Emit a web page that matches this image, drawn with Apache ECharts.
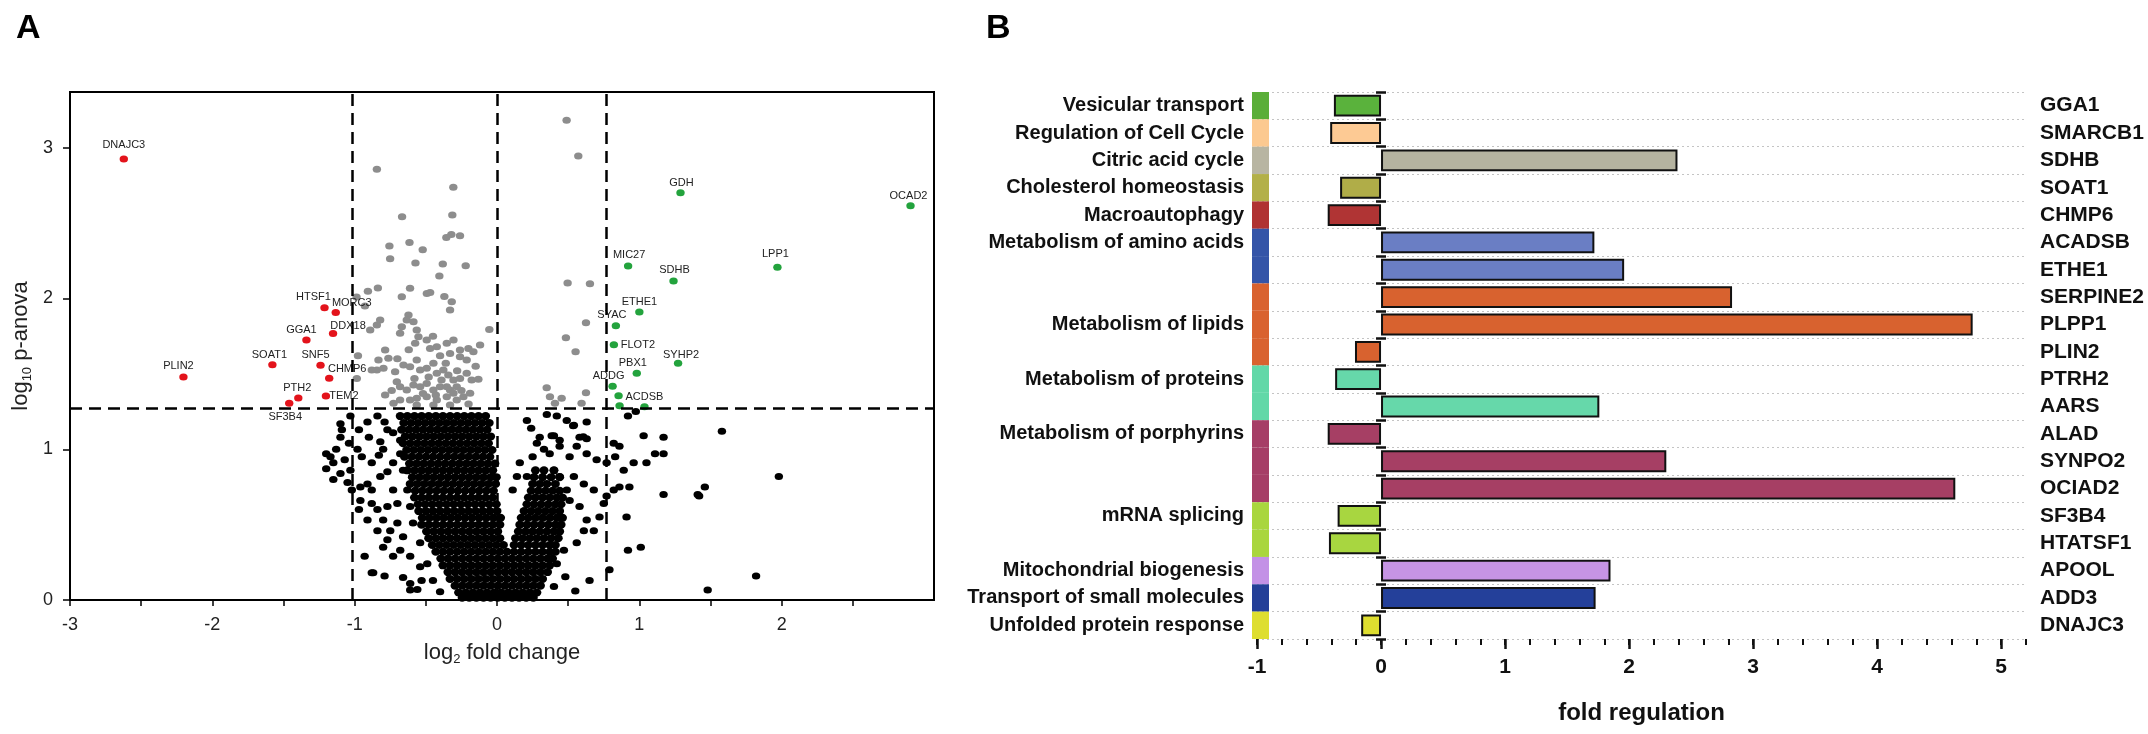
<!DOCTYPE html>
<html><head><meta charset="utf-8">
<script src="https://cdn.jsdelivr.net/npm/echarts@6.0.0/dist/echarts.min.js"></script>
<style>html,body{margin:0;padding:0;background:#fff}#c{width:2148px;height:734px}</style>
</head><body><div id="c"></div>
<script>
// ---------------- Panel A data (volcano) ----------------
const volcanoXTicks = [-3,-2.5,-2,-1.5,-1,-0.5,0,0.5,1,1.5,2,2.5];
const volcanoXLabels = [-3,-2,-1,0,1,2];
const volcanoYTicks = [0,1,2,3];
const thresholdX = [-1.02, 0, 0.77];
const thresholdY = 1.27;

const redGenes = ['DNAJC3','HTSF1','MORC3','DDX18','GGA1','SNF5','CHMP6','TEM2','PTH2','SF3B4','SOAT1','PLIN2'];
const redX = [-2.622,-1.212,-1.133,-1.152,-1.339,-1.24,-1.179,-1.202,-1.396,-1.46,-1.578,-2.203];
const redY = [2.925,1.939,1.908,1.768,1.725,1.557,1.471,1.353,1.34,1.305,1.561,1.48];

const greenGenes = ['GDH','OCAD2','MIC27','LPP1','SDHB','ETHE1','SYAC','FLOT2','SYHP2','PBX1','ADDG','','','ACDSB'];
const greenX = [1.289,2.905,0.921,1.97,1.24,1.0,0.835,0.821,1.272,0.982,0.812,0.854,0.861,1.036];
const greenY = [2.702,2.616,2.216,2.207,2.116,1.91,1.82,1.694,1.57,1.504,1.418,1.355,1.289,1.282];

const grayPoints = [
[-0.844,2.857],[-0.307,2.738],[-0.667,2.543],[-0.314,2.554],[-0.321,2.424],[-0.356,2.404],[-0.26,2.417],[-0.756,2.348],[-0.615,2.372],[-0.522,2.324],[-0.751,2.264],[-0.573,2.235],[-0.381,2.229],[-0.22,2.218],[-0.405,2.149],[-0.837,2.07],[-0.907,2.048],[-0.611,2.068],[-0.669,2.012],[-0.493,2.034],[-0.47,2.04],[-0.37,2.014],[-0.987,2.01],
[0.489,3.182],[0.571,2.945],[0.496,2.103],[0.653,2.098],
[-0.318,1.979],[-0.33,1.924],
[-0.821,1.857],[-0.891,1.791],[-0.844,1.824],[-0.622,1.891],[-0.634,1.857],[-0.669,1.813],[-0.587,1.846],[-0.564,1.791],[-0.681,1.769],[-0.552,1.747],[-0.494,1.725],[-0.575,1.703],[-0.47,1.669],[-0.423,1.68],[-0.353,1.703],[-0.306,1.725],[-0.33,1.636],[-0.26,1.658],[-0.201,1.669],[-0.166,1.647],[-0.119,1.692],[-0.26,1.614],[-0.213,1.592],
[-0.786,1.658],[-0.763,1.603],[-0.833,1.592],[-0.844,1.526],[-0.798,1.537],[-0.88,1.526],[-0.985,1.47],[-0.716,1.515],[-0.657,1.559],[-0.611,1.548],[-0.564,1.592],[-0.54,1.526],[-0.494,1.537],[-0.447,1.57],[-0.423,1.504],[-0.377,1.526],[-0.342,1.493],[-0.306,1.459],[-0.26,1.47],[-0.213,1.504],[-0.178,1.459],[-0.131,1.464],
[-0.704,1.448],[-0.681,1.415],[-0.634,1.393],[-0.587,1.426],[-0.54,1.415],[-0.494,1.437],[-0.447,1.393],[-0.4,1.415],[-0.353,1.415],[-0.33,1.393],[-0.306,1.371],[-0.283,1.415],
[-0.786,1.36],[-0.681,1.327],[-0.611,1.327],[-0.564,1.338],[-0.494,1.349],[-0.423,1.327],[-0.353,1.349],[-0.283,1.327],[-0.236,1.349],[-0.189,1.371],[-0.727,1.305],[-0.564,1.294],[-0.447,1.294],[-0.33,1.294],
[-0.45,1.75],[-0.40,1.62],[-0.48,1.48],[-0.39,1.46],[-0.58,1.47],[-0.62,1.66],[-0.70,1.60],[-0.74,1.39],[-0.52,1.37],[-0.25,1.39],[-0.2,1.30],[-0.15,1.55],[-0.36,1.57],[-0.28,1.52],[-0.43,1.36],
[-0.054,1.795],[-0.977,1.62],[-0.928,1.95],
[0.625,1.84],[0.484,1.74],[0.552,1.647],[0.349,1.408],[0.625,1.375],[0.372,1.349],[0.454,1.338],[0.407,1.305],[0.594,1.305]
];

// dense black core, read row by row: [log10 p, [log2 fold change values]]
const blackRows = [
[1.22,[-0.68,-0.63,-0.58,-0.53,-0.48,-0.43,-0.38,-0.33,-0.28,-0.23,-0.18,-0.13,-0.08]],
[1.175,[-0.655,-0.605,-0.555,-0.505,-0.455,-0.405,-0.355,-0.305,-0.255,-0.205,-0.155,-0.105,-0.055]],
[1.13,[-0.67,-0.62,-0.57,-0.52,-0.47,-0.42,-0.37,-0.32,-0.27,-0.22,-0.17,-0.12,-0.07]],
[1.085,[-0.645,-0.595,-0.545,-0.495,-0.445,-0.395,-0.345,-0.295,-0.245,-0.195,-0.145,-0.095,-0.045]],
[1.04,[-0.66,-0.61,-0.56,-0.51,-0.46,-0.41,-0.36,-0.31,-0.26,-0.21,-0.16,-0.11,-0.06]],
[0.995,[-0.635,-0.585,-0.535,-0.485,-0.435,-0.385,-0.335,-0.285,-0.235,-0.185,-0.135,-0.085,-0.035]],
[0.95,[-0.65,-0.60,-0.55,-0.50,-0.45,-0.40,-0.35,-0.30,-0.25,-0.20,-0.15,-0.10,-0.05]],
[0.905,[-0.615,-0.565,-0.515,-0.465,-0.415,-0.365,-0.315,-0.265,-0.215,-0.165,-0.115,-0.065,-0.015]],
[0.86,[-0.63,-0.58,-0.53,-0.48,-0.43,-0.38,-0.33,-0.28,-0.23,-0.18,-0.13,-0.08,-0.03,0.27,0.33,0.40]],
[0.815,[-0.595,-0.545,-0.495,-0.445,-0.395,-0.345,-0.295,-0.245,-0.195,-0.145,-0.095,-0.045,-0.005,0.26,0.32,0.38,0.44]],
[0.77,[-0.61,-0.56,-0.51,-0.46,-0.41,-0.36,-0.31,-0.26,-0.21,-0.16,-0.11,-0.06,-0.01,0.25,0.30,0.35,0.41]],
[0.725,[-0.575,-0.525,-0.475,-0.425,-0.375,-0.325,-0.275,-0.225,-0.175,-0.125,-0.075,-0.025,0.24,0.29,0.34,0.39,0.44]],
[0.68,[-0.58,-0.53,-0.48,-0.43,-0.38,-0.33,-0.28,-0.23,-0.18,-0.13,-0.08,-0.03,0.22,0.27,0.32,0.37,0.42,0.46]],
[0.635,[-0.555,-0.505,-0.455,-0.405,-0.355,-0.305,-0.255,-0.205,-0.155,-0.105,-0.055,-0.005,0.21,0.26,0.31,0.36,0.41,0.45]],
[0.59,[-0.55,-0.50,-0.45,-0.40,-0.35,-0.30,-0.25,-0.20,-0.15,-0.10,-0.05,0.0,0.19,0.24,0.29,0.34,0.39,0.44]],
[0.545,[-0.525,-0.475,-0.425,-0.375,-0.325,-0.275,-0.225,-0.175,-0.125,-0.075,-0.025,0.025,0.17,0.22,0.27,0.32,0.37,0.42,0.46]],
[0.50,[-0.53,-0.48,-0.43,-0.38,-0.33,-0.28,-0.23,-0.18,-0.13,-0.08,-0.03,0.02,0.16,0.21,0.26,0.31,0.36,0.41,0.45]],
[0.455,[-0.495,-0.445,-0.395,-0.345,-0.295,-0.245,-0.195,-0.145,-0.095,-0.045,0.005,0.15,0.20,0.25,0.30,0.35,0.40,0.44]],
[0.41,[-0.48,-0.43,-0.38,-0.33,-0.28,-0.23,-0.18,-0.13,-0.08,-0.03,0.02,0.13,0.18,0.23,0.28,0.33,0.38,0.43]],
[0.365,[-0.455,-0.405,-0.355,-0.305,-0.255,-0.205,-0.155,-0.105,-0.055,-0.005,0.045,0.12,0.17,0.22,0.27,0.32,0.37,0.41]],
[0.32,[-0.43,-0.38,-0.33,-0.28,-0.23,-0.18,-0.13,-0.08,-0.03,0.02,0.07,0.12,0.17,0.22,0.27,0.32,0.37,0.41]],
[0.275,[-0.395,-0.345,-0.295,-0.245,-0.195,-0.145,-0.095,-0.045,0.005,0.055,0.105,0.155,0.205,0.255,0.305,0.355,0.39]],
[0.23,[-0.38,-0.33,-0.28,-0.23,-0.18,-0.13,-0.08,-0.03,0.02,0.07,0.12,0.17,0.22,0.27,0.32,0.37]],
[0.185,[-0.345,-0.295,-0.245,-0.195,-0.145,-0.095,-0.045,0.005,0.055,0.105,0.155,0.205,0.255,0.305,0.355]],
[0.14,[-0.33,-0.28,-0.23,-0.18,-0.13,-0.08,-0.03,0.02,0.07,0.12,0.17,0.22,0.27,0.32]],
[0.095,[-0.295,-0.245,-0.195,-0.145,-0.095,-0.045,0.005,0.055,0.105,0.155,0.205,0.255,0.305]],
[0.05,[-0.27,-0.22,-0.17,-0.12,-0.07,-0.02,0.03,0.08,0.13,0.18,0.23,0.28]],
[0.015,[-0.245,-0.195,-0.145,-0.095,-0.045,0.005,0.055,0.105,0.155,0.205,0.255]]
];

const blackSparse = [
[-1.10,1.17],[-1.03,1.22],[-0.97,1.13],[-0.91,1.18],[-0.84,1.22],[-0.79,1.18],[-0.90,1.08],[-1.10,1.08],[-1.04,1.04],[-1.13,1.00],[-1.17,0.95],[-1.15,0.91],[-1.07,0.93],[-0.98,1.00],[-0.95,0.95],[-0.88,0.91],[-0.83,0.96],[-1.10,0.84],[-1.15,0.80],[-1.05,0.78],[-1.02,0.73],[-0.96,0.75],[-0.91,0.77],[-0.88,0.73],[-0.82,0.82],[-0.77,0.85],[-0.96,0.66],[-0.97,0.60],[-0.88,0.64],[-0.84,0.60],[-0.77,0.62],[-0.80,0.53],[-0.91,0.53],[-0.84,0.46],[-0.75,0.46],[-0.77,0.40],[-0.70,0.51],[-0.93,0.29],[-0.88,0.18],[-0.79,0.16],[-0.73,0.29],[-0.68,0.33],[-0.66,0.15],[-0.61,0.11],[-0.56,0.07],[-0.66,0.42],[-0.70,0.64],[-0.73,0.73],[-0.73,0.91],[-0.80,1.00],[-0.68,0.97],[-0.66,0.86],[-0.63,0.73],[-0.68,1.06],[-0.73,1.11],[-0.77,1.13],[-0.82,1.05],[-1.09,1.13],[-1.03,0.86],[-0.61,0.62],[-0.59,0.51],[-0.54,0.38],[-0.49,0.24],[-0.45,0.13],[-0.40,0.055],[-0.54,0.22],[-0.61,0.29],[-1.2,0.97],[-1.2,0.87],[-0.80,0.35],[-0.87,0.18],[-0.53,0.13],[-0.61,0.066],
[0.21,1.19],[0.35,1.23],[0.42,1.22],[0.49,1.19],[0.54,1.16],[0.63,1.18],[0.24,1.14],[0.30,1.08],[0.40,1.09],[0.44,1.06],[0.58,1.08],[0.63,1.07],[0.28,1.04],[0.33,1.00],[0.25,0.95],[0.37,0.97],[0.44,1.02],[0.51,0.95],[0.56,1.02],[0.63,0.97],[0.70,0.93],[0.77,0.91],[0.82,1.04],[0.86,1.02],[0.83,0.95],[0.89,0.86],[0.93,0.75],[0.86,0.75],[0.82,0.73],[0.77,0.69],[0.75,0.64],[0.72,0.55],[0.68,0.46],[0.96,0.91],[1.05,0.91],[1.17,0.97],[1.17,1.08],[1.03,1.09],[0.92,1.22],[0.975,1.25],[1.17,0.70],[1.41,0.70],[0.91,0.55],[0.92,0.33],[1.01,0.35],[0.79,0.20],[0.65,0.13],[0.55,0.06],[0.40,0.09],[0.48,0.155],[0.42,0.24],[0.47,0.33],[0.56,0.38],[0.61,0.46],[0.63,0.53],[0.58,0.62],[0.51,0.66],[0.49,0.73],[0.44,0.82],[0.40,0.86],[0.54,0.82],[0.61,0.77],[0.68,0.73],[0.14,0.82],[0.21,0.82],[0.11,0.73],[0.16,0.91],[1.58,1.12],[1.98,0.82],[1.82,0.16],[1.48,0.066],[1.46,0.75],[1.42,0.69],[1.11,0.97],[0.26,0.04],[0.384,1.09],[0.606,1.083],[0.535,1.156]
];

// ---------------- Panel B data (fold regulation) ----------------
const pathways = ['Vesicular transport','Regulation of Cell Cycle','Citric acid cycle','Cholesterol homeostasis','Macroautophagy','Metabolism of amino acids','Metabolism of lipids','Metabolism of proteins','Metabolism of porphyrins','mRNA splicing','Mitochondrial biogenesis','Transport of small molecules','Unfolded protein response'];
const genes = ['GGA1','SMARCB1','SDHB','SOAT1','CHMP6','ACADSB','ETHE1','SERPINE2','PLPP1','PLIN2','PTRH2','AARS','ALAD','SYNPO2','OCIAD2','SF3B4','HTATSF1','APOOL','ADD3','DNAJC3'];
const foldRegulation = [-0.38,-0.41,2.39,-0.33,-0.43,1.72,1.96,2.83,4.77,-0.21,-0.37,1.76,-0.43,2.30,4.63,-0.35,-0.42,1.85,1.73,-0.16];
const genePathway = [0,1,2,3,4,5,5,6,6,6,7,7,8,8,8,9,9,10,11,12];
const foldTicks = [-1,0,1,2,3,4,5];

// ---------------- layout / style (not data) ----------------
const FONT = "'Liberation Sans', Arial, Helvetica, sans-serif";
const pathwayLabelRow = [0,1,2,3,4,5,8,10,12,15,17,18,19];
const stripColors = ['#5aae38','#fcc990','#b8b5a2','#b3b048','#b03232','#3454a8','#d9622f','#62d8a8','#a63e66','#a9d63e','#c391e6','#243f98','#dede30'];
const barColors  = ['#5ab23c','#fdca94','#b5b3a0','#b0ad48','#b03434','#6a7ec4','#d8622f','#66d8aa','#a63f64','#a8d640','#c694e4','#24409a','#dede30'];
const labelOffset = {DNAJC3:[0,-14],HTSF1:[-11,-11],MORC3:[16,-9],DDX18:[15,-8],GGA1:[-5,-10],SNF5:[-5,-10],CHMP6:[18,-9],TEM2:[18,0],PTH2:[-1,-10],SF3B4:[-4,14],SOAT1:[-3,-10],PLIN2:[-5,-11],
  GDH:[1,-10],OCAD2:[-2,-10],MIC27:[1,-11],LPP1:[-2,-13],SDHB:[1,-11],ETHE1:[0,-10],SYAC:[-4,-11],FLOT2:[24,0],SYHP2:[3,-8],PBX1:[-4,-10],ADDG:[-4,-10],ACDSB:[0,-10]};
const DOT = [8.4, 7];
const CORE_DOT = [9, 8];

const corePoints = [];
blackRows.forEach(r => r[1].forEach(x => corePoints.push([x, r[0]])));

function labeled(names, xs, ys) {
  return names.map((n, i) => {
    const item = {value: [xs[i], ys[i]], name: n};
    if (n && labelOffset[n]) item.label = {show: true, formatter: n, position: 'inside', offset: labelOffset[n]};
    return item;
  });
}
const rowLabels = genes.map(() => '');
pathwayLabelRow.forEach((r, p) => { rowLabels[r] = pathways[p]; });
const isIn = (arr, v) => arr.some(t => Math.abs(t - v) < 1e-9);

const richA = {
  a: {fontSize: 22, color: '#222', lineHeight: 26, fontFamily: FONT},
  s: {fontSize: 13, color: '#222', lineHeight: 13, verticalAlign: 'bottom', fontFamily: FONT}
};
const ptLabel = {show: false, color: '#222', fontSize: 11, fontFamily: FONT};

const chart = echarts.init(document.getElementById('c'), null, {renderer: 'canvas'});
chart.setOption({
  animation: false,
  backgroundColor: '#fff',
  textStyle: {fontFamily: FONT},
  graphic: [
    {type: 'text', left: 16, top: 12, style: {text: 'A', font: 'bold 34px ' + FONT, fill: '#000'}},
    {type: 'text', left: 986, top: 12, style: {text: 'B', font: 'bold 34px ' + FONT, fill: '#000'}}
  ],
  grid: [
    {left: 70, top: 92, width: 864, height: 508, show: true, borderColor: '#000', borderWidth: 2, outerBoundsMode: 'none', containLabel: false},
    {left: 1257, top: 92, width: 769, height: 547, outerBoundsMode: 'none', containLabel: false},
    {left: 1252, top: 92, width: 17, height: 547, outerBoundsMode: 'none', containLabel: false}
  ],
  xAxis: [
    {gridIndex: 0, type: 'value', min: -3, max: 3.07, interval: 0.5, position: 'bottom',
      axisLine: {onZero: false, lineStyle: {color: '#000', width: 2}},
      axisTick: {show: true, length: 6, customValues: volcanoXTicks, lineStyle: {color: '#000', width: 1.5}},
      axisLabel: {customValues: volcanoXLabels, fontSize: 18, color: '#222', margin: 16,
        formatter: v => isIn(volcanoXLabels, v) ? String(v) : ''},
      splitLine: {show: false},
      name: '{a|log}{s|2}{a| fold change}', nameLocation: 'middle', nameGap: 40, nameTextStyle: {rich: richA}},
    {gridIndex: 1, type: 'value', min: -1, max: 5.2, interval: 1, position: 'bottom',
      axisLine: {onZero: false, lineStyle: {color: '#111', width: 2.5}},
      axisTick: {show: true, length: 10, customValues: foldTicks, lineStyle: {color: '#111', width: 2.5}},
      axisLabel: {customValues: foldTicks, fontSize: 21, fontWeight: 'bold', color: '#111', margin: 18,
        formatter: v => isIn(foldTicks, v) ? String(v) : ''},
      splitLine: {show: false},
      name: 'fold regulation', nameLocation: 'middle', nameGap: 62,
      nameTextStyle: {fontSize: 24, fontWeight: 'bold', color: '#111'}},
    {gridIndex: 1, type: 'value', min: -1, max: 5.2, interval: 0.2, position: 'bottom',
      axisLine: {show: false, onZero: false},
      axisTick: {show: true, length: 6, lineStyle: {color: '#111', width: 2}},
      axisLabel: {show: false}, splitLine: {show: false}},
    {gridIndex: 2, type: 'value', min: 0, max: 1, show: false}
  ],
  yAxis: [
    {gridIndex: 0, type: 'value', min: 0, max: 3.37, interval: 1, position: 'left',
      axisLine: {onZero: false, lineStyle: {color: '#000', width: 2}},
      axisTick: {show: true, length: 7, customValues: volcanoYTicks, lineStyle: {color: '#000', width: 1.5}},
      axisLabel: {customValues: volcanoYTicks, fontSize: 18, color: '#222', margin: 17,
        formatter: v => isIn(volcanoYTicks, v) ? String(v) : ''},
      splitLine: {show: false},
      name: '{a|log}{s|10}{a| p-anova}', nameLocation: 'middle', nameRotate: 90, nameGap: 36, nameTextStyle: {rich: richA}},
    {gridIndex: 1, type: 'category', data: genes, inverse: true, position: 'right',
      axisLine: {show: false, onZero: false}, axisTick: {show: false},
      axisLabel: {interval: 0, margin: 14, fontSize: 21, fontWeight: 'bold', color: '#111'},
      splitLine: {show: true, interval: 0, lineStyle: {color: '#c4c4c4', type: [2, 3], width: 1}}},
    {gridIndex: 1, type: 'category', data: genes, inverse: true, position: 'left',
      axisLine: {show: false, onZero: false}, axisTick: {show: false},
      axisLabel: {interval: 0, margin: 13, fontSize: 20, fontWeight: 'bold', color: '#111', formatter: (v, i) => rowLabels[i]},
      splitLine: {show: false}},
    {gridIndex: 1, type: 'category', data: genes, inverse: true, position: 'left',
      axisLine: {show: false, onZero: true},
      axisTick: {show: true, interval: 0, length: 5, lineStyle: {color: '#111', width: 2.5}},
      axisLabel: {show: false}, splitLine: {show: false}},
    {gridIndex: 1, type: 'category', data: genes, inverse: true, position: 'left',
      axisLine: {show: false, onZero: true},
      axisTick: {show: true, interval: 0, inside: true, length: 5, lineStyle: {color: '#111', width: 2.5}},
      axisLabel: {show: false}, splitLine: {show: false}},
    {gridIndex: 2, type: 'category', data: genes, inverse: true, show: false}
  ],
  series: [
    {type: 'scatter', xAxisIndex: 0, yAxisIndex: 0, data: corePoints, symbolSize: CORE_DOT, silent: true,
      itemStyle: {color: '#000', opacity: 1}},
    {type: 'scatter', xAxisIndex: 0, yAxisIndex: 0, data: blackSparse, symbolSize: DOT, silent: true,
      itemStyle: {color: '#000', opacity: 1}},
    {type: 'scatter', xAxisIndex: 0, yAxisIndex: 0, data: grayPoints, symbolSize: DOT, silent: true,
      itemStyle: {color: '#8d8d8d', opacity: 1}},
    {type: 'scatter', xAxisIndex: 0, yAxisIndex: 0, data: labeled(redGenes, redX, redY), symbolSize: DOT, silent: true,
      itemStyle: {color: '#e3131b', opacity: 1}, label: ptLabel},
    {type: 'scatter', xAxisIndex: 0, yAxisIndex: 0, data: labeled(greenGenes, greenX, greenY), symbolSize: DOT, silent: true,
      itemStyle: {color: '#23a33d', opacity: 1}, label: ptLabel,
      markLine: {silent: true, symbol: 'none', label: {show: false}, animation: false,
        lineStyle: {color: '#000', width: 2.5, type: [12, 7]},
        data: thresholdX.map(v => ({xAxis: v})).concat([{yAxis: thresholdY}])}},
    {type: 'bar', xAxisIndex: 1, yAxisIndex: 1, barCategoryGap: '20%', silent: true,
      data: foldRegulation.map((v, i) => ({value: v, itemStyle: {color: barColors[genePathway[i]], borderColor: '#111', borderWidth: 2}}))},
    {type: 'bar', xAxisIndex: 3, yAxisIndex: 5, barCategoryGap: '0%', silent: true, z: 5,
      data: genes.map((g, i) => ({value: 1, itemStyle: {color: stripColors[genePathway[i]]}}))}
  ]
});
</script></body></html>
